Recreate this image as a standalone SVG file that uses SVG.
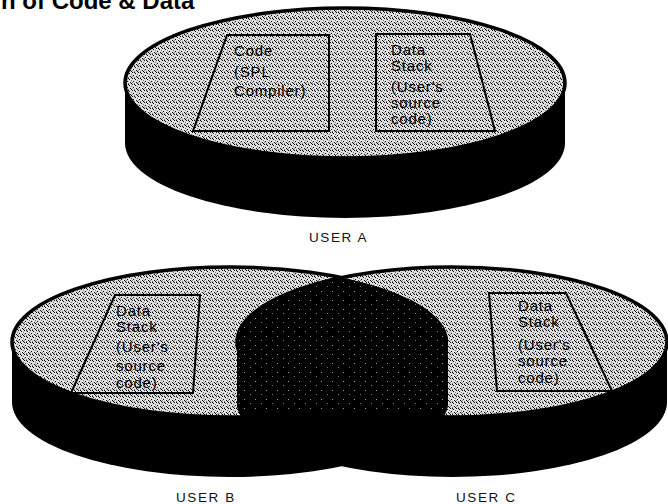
<svg xmlns="http://www.w3.org/2000/svg" width="668" height="504" viewBox="0 0 668 504">
<style>
.t{font-family:"Liberation Sans",Arial,Helvetica,sans-serif;font-size:15px;letter-spacing:0.8px;fill:#000}
.lbl{font-family:"Liberation Sans",Arial,Helvetica,sans-serif;font-size:13.5px;letter-spacing:1.6px;fill:#111}
.title{font-family:"Liberation Sans",Arial,Helvetica,sans-serif;font-size:24px;font-weight:bold;fill:#000}
.side{fill:#000}
.top{fill:url(#ht);stroke:#000;stroke-width:3.5}
.box{fill:none;stroke:#000;stroke-width:2;stroke-linejoin:miter}
</style>
<defs>
<pattern id="ht" width="6" height="6" patternUnits="userSpaceOnUse">
<rect width="6" height="6" fill="#e0e0e0"/>
<rect x="0" y="0" width="1" height="1" fill="#000"/>
<rect x="3" y="1" width="1" height="1" fill="#000"/>
<rect x="1" y="3" width="1" height="1" fill="#000"/>
<rect x="4" y="4" width="1" height="1" fill="#000"/>
<rect x="2" y="0" width="1" height="1" fill="#000"/>
<rect x="5" y="5" width="1" height="1" fill="#000"/>
<rect x="5" y="2" width="1" height="1" fill="#777"/>
<rect x="2" y="5" width="1" height="1" fill="#777"/>
<rect x="0" y="4" width="1" height="1" fill="#888"/>
</pattern>
<pattern id="spk" width="11" height="9" patternUnits="userSpaceOnUse">
<rect width="11" height="9" fill="#000"/>
<rect x="2" y="3" width="1" height="1" fill="#9a9a9a"/>
<rect x="8" y="7" width="1" height="1" fill="#777"/>
</pattern>
<clipPath id="clipB"><path d="M12 342 A218 75 0 0 1 448 342 L448 402 A218 75 0 0 1 12 402 Z"/></clipPath>
<clipPath id="clipC"><path d="M237 342 A215 75 0 0 1 667 342 L667 402 A215 75 0 0 1 237 402 Z"/></clipPath>
</defs>
<rect width="668" height="504" fill="#fff"/>

<g id="title">
<text class="title" x="1" y="9">n of Code &amp; Data</text>
</g>

<g id="userA">
<path class="side" d="M125 83 A220 75 0 0 1 565 83 L565 143 A220 75 0 0 1 125 143 Z"/>
<ellipse class="top" cx="345" cy="83" rx="220" ry="75"/>
<g id="codeBox">
<polygon class="box" points="227,35 329,35 329,131 193,131"/>
<text class="t" x="234" y="56">Code</text>
<text class="t" x="234" y="77">(SPL</text>
<text class="t" x="234" y="96">Compiler)</text>
</g>
<g id="dataA">
<polygon class="box" points="376,34 470,34 495,131 376,131"/>
<text class="t" x="391" y="55">Data</text>
<text class="t" x="391" y="71">Stack</text>
<text class="t" x="391" y="92">(User's</text>
<text class="t" x="391" y="108">source</text>
<text class="t" x="391" y="124">code)</text>
</g>
<text class="lbl" x="309" y="242">USER A</text>
</g>

<g id="userB">
<path class="side" d="M12 342 A218 75 0 0 1 448 342 L448 402 A218 75 0 0 1 12 402 Z"/>
<ellipse class="top" cx="230" cy="342" rx="218" ry="75"/>
</g>

<g id="userC">
<path class="side" d="M237 342 A215 75 0 0 1 667 342 L667 402 A215 75 0 0 1 237 402 Z"/>
<ellipse class="top" cx="452" cy="342" rx="215" ry="75"/>
</g>

<g id="shared">
<g clip-path="url(#clipB)">
<path d="M237 342 A215 75 0 0 1 667 342 L667 402 A215 75 0 0 1 237 402 Z" fill="#000"/>
<g clip-path="url(#clipC)">
<rect x="236" y="272" width="214" height="140" fill="url(#spk)"/>
</g>
</g>
</g>

<g id="dataB">
<polygon class="box" points="115,295 200,295 193,393 71,393"/>
<text class="t" x="116" y="316">Data</text>
<text class="t" x="116" y="332">Stack</text>
<text class="t" x="116" y="352">(User's</text>
<text class="t" x="116" y="371">source</text>
<text class="t" x="116" y="388">code)</text>
</g>

<g id="dataC">
<polygon class="box" points="489,293 566,293 612,391 497,391"/>
<text class="t" x="518" y="311">Data</text>
<text class="t" x="518" y="327">Stack</text>
<text class="t" x="518" y="350">(User's</text>
<text class="t" x="518" y="366">source</text>
<text class="t" x="518" y="383">code)</text>
</g>

<g id="labels">
<text class="lbl" x="176" y="502">USER B</text>
<text class="lbl" x="456" y="502">USER C</text>
</g>

<g id="connectors"/>
</svg>
